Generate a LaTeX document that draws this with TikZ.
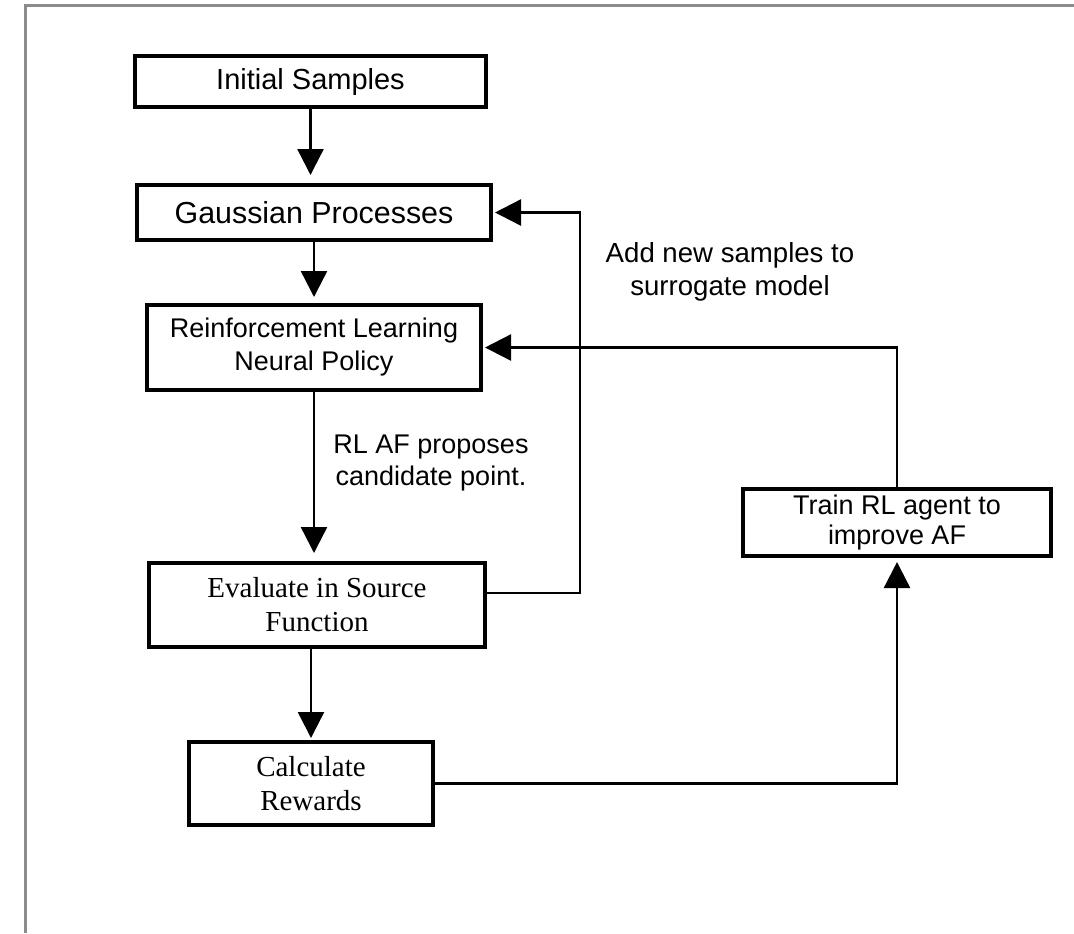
\documentclass[tikz,border=0pt]{standalone}
\usepackage{fontspec}
\setmainfont{Liberation Serif}
\setsansfont{Liberation Sans}
\usetikzlibrary{arrows.meta}

\tikzset{
  procbox/.style={draw, line width=2pt, inner sep=0pt, align=center,
    font=\sffamily\fontsize{13.5}{16.5}\selectfont},
  srcbox/.style={procbox, font=\rmfamily\fontsize{14.5}{17}\selectfont},
  flowarrow/.style={line width=1.2pt, shorten >=1pt,
    -{Triangle[width=13pt,length=13pt]}},
  note/.style={align=center, font=\sffamily\fontsize{13.5}{16}\selectfont},
}

\begin{document}
\begin{tikzpicture}[x=0.5pt, y=-0.5pt]
        \useasboundingbox (0,0) rectangle (1074,933);
        \draw[line width=1.5pt, gray!90] (25,933) -- (25,5) -- (1074,5);
        % main column
        \node[procbox, minimum width=175.5pt, minimum height=25.5pt,
              font=\sffamily\fontsize{14.5}{17}\selectfont] (init) at (310.5,81.5) {Initial Samples};
        \node[procbox, minimum width=177pt, minimum height=27.5pt,
              font=\sffamily\fontsize{15.2}{18}\selectfont] (gp) at (314,212.5) {Gaussian Processes};
        \node[procbox, minimum width=167pt, minimum height=42.5pt] (rlpol) at (314,347.5)
              {Reinforcement Learning\\Neural Policy};
        \node[srcbox, minimum width=168pt, minimum height=42pt] (evalsrc) at (317,605)
              {Evaluate in Source\\Function};
        \node[srcbox, minimum width=122pt, minimum height=41.5pt] (calc) at (311,783.5)
              {Calculate\\Rewards};
        \node[procbox, minimum width=154pt, minimum height=33.5pt,
              font=\sffamily\fontsize{13.5}{15}\selectfont] (train) at (897,522.5)
              {Train RL agent to\\improve AF};
        % labels
        \node[note, font=\sffamily\fontsize{13.8}{16.5}\selectfont] (addlbl) at (730,272)
              {Add new samples to\\surrogate model};
        \node[note] (proplbl) at (431,463) {RL AF proposes\\candidate point.};
        % arrows
        \draw[flowarrow, shorten >=4pt] (init.south) -- (init.south |- gp.north);
        \draw[flowarrow, shorten >=3pt] (gp.south) -- (gp.south |- rlpol.north);
        \draw[flowarrow, shorten >=4pt] (rlpol.south) -- (rlpol.south |- evalsrc.north);
        \draw[flowarrow] (evalsrc.south -| calc.north) -- (calc.north);
        \draw[flowarrow] ([yshift=6pt]evalsrc.east) -- ++(93,0) |- (gp.east);
        \draw[flowarrow, shorten >=2pt] (calc.east) -| (train.south);
        \draw[flowarrow] (train.north) |- (rlpol.east);
    \end{tikzpicture}
\end{document}
